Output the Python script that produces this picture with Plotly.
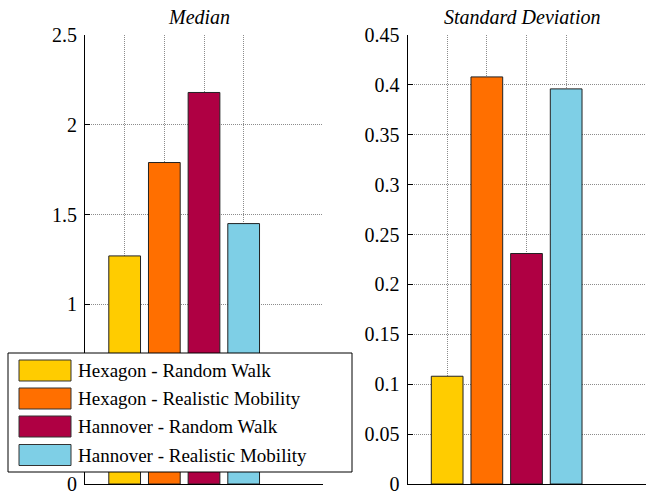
import plotly.graph_objects as go

# ---- data ----
series_names = ["Hexagon - Random Walk", "Hexagon - Realistic Mobility",
                "Hannover - Random Walk", "Hannover - Realistic Mobility"]
positions = [1, 2, 3, 4]
median_values = [1.27, 1.79, 2.18, 1.45]
std_values = [0.108, 0.408, 0.231, 0.396]
median_ticks = [0, 0.5, 1, 1.5, 2, 2.5]
median_ticklabels = ["0", "0.5", "1", "1.5", "2", "2.5"]
std_ticks = [0, 0.05, 0.1, 0.15, 0.2, 0.25, 0.3, 0.35, 0.4, 0.45]
std_ticklabels = ["0", "0.05", "0.1", "0.15", "0.2", "0.25", "0.3", "0.35", "0.4", "0.45"]
panel_titles = ["Median", "Standard Deviation"]

# ---- styles ----
colors = ["#FFCC00", "#FF6F00", "#AF0043", "#7ECFE6"]
W, H = 646, 495
FONT = "Liberation Serif, Times New Roman, serif"

def px_x(p):
    return p / W

def px_y(p):
    return (H - p) / H

fig = go.Figure()
fig.add_trace(go.Bar(x=positions, y=median_values, width=0.8,
                     marker=dict(color=colors, line=dict(color="#222222", width=1)),
                     xaxis="x", yaxis="y", showlegend=False))
fig.add_trace(go.Bar(x=positions, y=std_values, width=0.8,
                     marker=dict(color=colors, line=dict(color="#222222", width=1)),
                     xaxis="x2", yaxis="y2", showlegend=False))

grid = dict(showgrid=True, gridcolor="#8c8c8c", griddash="1px,1px", gridwidth=1)
xcommon = dict(range=[0, 6], tickvals=positions, ticktext=["", "", "", ""],
               showline=True, linecolor="black", linewidth=1, ticks="",
               zeroline=False, automargin=False, fixedrange=True, **grid)
ycommon = dict(showline=True, linecolor="black", linewidth=1, ticks="inside",
               ticklen=5, tickcolor="black", zeroline=False, automargin=False,
               fixedrange=True, ticklabeloverflow="allow",
               tickfont=dict(family=FONT, size=20, color="black"),
               ticklabelstandoff=3, **grid)

ydom = [px_y(484), px_y(35)]
fig.update_layout(
    width=W, height=H,
    template="none",
    margin=dict(l=0, r=0, t=0, b=0),
    paper_bgcolor="white", plot_bgcolor="white",
    font=dict(family=FONT, color="black"),
    showlegend=False,
    xaxis=dict(domain=[px_x(85), px_x(323)], anchor="y", **xcommon),
    yaxis=dict(domain=ydom, anchor="x", range=[0, 2.5], tickvals=median_ticks,
               ticktext=median_ticklabels, **ycommon),
    xaxis2=dict(domain=[px_x(407.5), px_x(645.5)], anchor="y2", **xcommon),
    yaxis2=dict(domain=ydom, anchor="x2", range=[0, 0.45], tickvals=std_ticks,
                ticktext=std_ticklabels, **ycommon),
)

# panel titles
title_centers = [199, 522]
for t, cx in zip(panel_titles, title_centers):
    fig.add_annotation(text="<i>" + t + "</i>", xref="paper", yref="paper",
                       x=px_x(cx), y=px_y(17), xanchor="center", yanchor="middle",
                       showarrow=False, font=dict(family=FONT, size=20, color="black"))

# custom legend box (large swatches as in reference)
fig.add_shape(type="rect", xref="paper", yref="paper",
              x0=px_x(8), x1=px_x(352), y0=px_y(472), y1=px_y(353),
              fillcolor="white", line=dict(color="black", width=1), layer="above")
row_centers = [370.5, 398.5, 426.5, 455]
for name, col, cy in zip(series_names, colors, row_centers):
    fig.add_shape(type="rect", xref="paper", yref="paper",
                  x0=px_x(19), x1=px_x(71), y0=px_y(cy + 10.5), y1=px_y(cy - 10.5),
                  fillcolor=col, line=dict(color="#333333", width=1), layer="above")
    fig.add_annotation(text=name, xref="paper", yref="paper",
                       x=px_x(76), y=px_y(cy), xanchor="left", yanchor="middle",
                       showarrow=False, font=dict(family=FONT, size=19, color="black"))

fig.write_html("out.html", config={"displayModeBar": False, "staticPlot": True},
               post_script="document.body.style.margin='0';document.body.style.overflow='hidden';")
